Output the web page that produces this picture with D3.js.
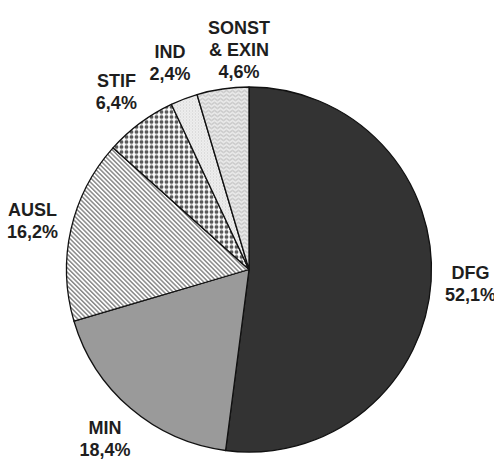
<!DOCTYPE html>
<html><head><meta charset="utf-8">
<script src="https://cdn.jsdelivr.net/npm/d3@7"></script>
<style>html,body{margin:0;padding:0;background:#fff;}svg{display:block;}</style>
</head><body>
<script>
const categories = ["DFG", "MIN", "AUSL", "STIF", "IND", "SONST & EXIN"];
const labelLines = [["DFG"], ["MIN"], ["AUSL"], ["STIF"], ["IND"], ["SONST", "& EXIN"]];
const values = [52.1, 18.4, 16.2, 6.4, 2.4, 4.6];
const valueLabels = ["52,1%", "18,4%", "16,2%", "6,4%", "2,4%", "4,6%"];

const W = 494, H = 467;
const cx = 249, cy = 269.5, R = 182.5, labelR = 222, lineH = 22;

const svg = d3.select("body").append("svg").attr("width", W).attr("height", H);
const defs = svg.append("defs");

// AUSL diagonal stripes
const pA = defs.append("pattern").attr("id", "pAUSL").attr("patternUnits", "userSpaceOnUse")
  .attr("width", 3.2).attr("height", 3.2).attr("patternTransform", "rotate(-45)");
pA.append("rect").attr("width", 3.2).attr("height", 3.2).attr("fill", "#fff");
pA.append("rect").attr("width", 1.5).attr("height", 3.2).attr("fill", "#8a8a8a");

// STIF dot grid
const pS = defs.append("pattern").attr("id", "pSTIF").attr("patternUnits", "userSpaceOnUse")
  .attr("width", 5).attr("height", 5);
pS.append("rect").attr("width", 5).attr("height", 5).attr("fill", "#fff");
pS.append("circle").attr("cx", 2.5).attr("cy", 2.5).attr("r", 1.9).attr("fill", "#5a5a5a");

// IND fine texture
const pI = defs.append("pattern").attr("id", "pIND").attr("patternUnits", "userSpaceOnUse")
  .attr("width", 3).attr("height", 3);
pI.append("rect").attr("width", 3).attr("height", 3).attr("fill", "#efefef");
pI.append("rect").attr("x", 0).attr("y", 0).attr("width", 1).attr("height", 1).attr("fill", "#c8c8c8");
pI.append("rect").attr("x", 1.5).attr("y", 1.5).attr("width", 1).attr("height", 1).attr("fill", "#d4d4d4");

// SONST wavy texture
const pW = defs.append("pattern").attr("id", "pSONST").attr("patternUnits", "userSpaceOnUse")
  .attr("width", 6).attr("height", 4);
pW.append("rect").attr("width", 6).attr("height", 4).attr("fill", "#e8e8e8");
pW.append("path").attr("d", "M0,2 Q1.5,0 3,2 T6,2").attr("fill", "none").attr("stroke", "#aaa").attr("stroke-width", 0.9);

const fills = ["#333333", "#9a9a9a", "url(#pAUSL)", "url(#pSTIF)", "url(#pIND)", "url(#pSONST)"];

const pie = d3.pie().sort(null).value(d => d)(values);
const arc = d3.arc().innerRadius(0).outerRadius(R);

const g = svg.append("g").attr("transform", `translate(${cx},${cy})`);
g.selectAll("path.slice").data(pie).join("path")
  .attr("class", "slice")
  .attr("d", arc)
  .attr("fill", (d, i) => fills[i])
  .attr("stroke", "#111")
  .attr("stroke-width", 1.3)
  .attr("stroke-linejoin", "round");

// label nudges (layout only)
const nudge = [[0, 0], [0, 0], [0, 0], [0, 0], [0, 0], [22, 0]];

const lg = svg.append("g");
pie.forEach((d, i) => {
  const a = (d.startAngle + d.endAngle) / 2;
  const x = cx + labelR * Math.sin(a) + nudge[i][0];
  const y = cy - labelR * Math.cos(a) + nudge[i][1];
  const lines = labelLines[i].concat([valueLabels[i]]);
  const n = lines.length;
  const t = lg.append("text")
    .attr("x", x)
    .attr("text-anchor", "middle")
    .attr("font-family", "'Liberation Sans', Arial, sans-serif")
    .attr("font-weight", "bold")
    .attr("font-size", 18)
    .attr("fill", "#1e1e1e");
  lines.forEach((s, k) => {
    t.append("tspan").attr("x", x)
      .attr("y", y - (n - 1) * lineH / 2 + 6.5 + k * lineH)
      .text(s);
  });
});
</script>
</body></html>
